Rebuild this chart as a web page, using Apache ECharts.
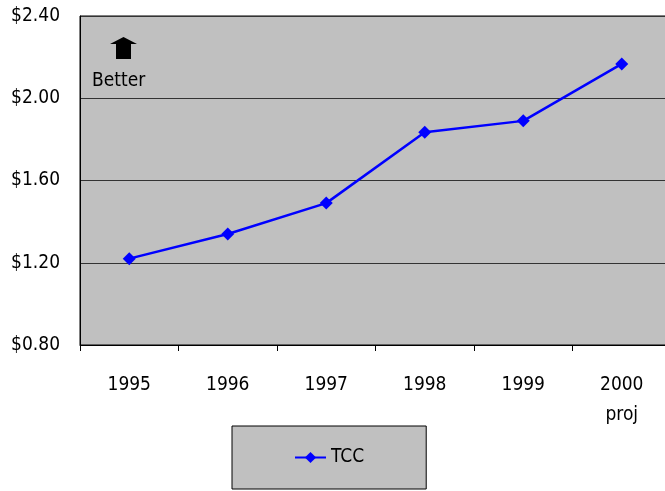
<!DOCTYPE html>
<html>
<head>
<meta charset="utf-8">
<script src="https://cdn.jsdelivr.net/npm/echarts@6/dist/echarts.min.js"></script>
<style>
  html, body { margin: 0; padding: 0; background: #fff; }
  #chart { width: 665px; height: 491px; }
</style>
</head>
<body>
<div id="chart"></div>
<script>
// 数据
const years = ['1995', '1996', '1997', '1998', '1999', '2000\nproj']
const tccValues = [1.22, 1.34, 1.49, 1.835, 1.89, 2.167]
const seriesName = 'TCC'

const font = "'DejaVu Sans Condensed', 'Liberation Sans Narrow', 'Liberation Sans', sans-serif"

const chart = echarts.init(document.getElementById('chart'))
const option = {
  animation: false,
  grid: {
    left: 80,
    width: 591,
    top: 16,
    bottom: 146,
    outerBoundsMode: 'none',
    containLabel: false,
    show: true,
    backgroundColor: '#c0c0c0',
    borderColor: '#000',
    borderWidth: 1
  },
  legend: {
    data: [seriesName],
    left: 232,
    top: 426,
    padding: [22, 62],
    backgroundColor: '#c0c0c0',
    borderColor: '#000',
    borderWidth: 1,
    itemWidth: 31,
    itemHeight: 14,
    itemGap: 4,
    textStyle: { fontFamily: font, fontSize: 19, color: '#000' }
  },
  xAxis: {
    type: 'category',
    data: years,
    boundaryGap: true,
    axisLine: { lineStyle: { color: '#000', width: 1 } },
    axisTick: { show: true, length: 6, lineStyle: { color: '#000' } },
    axisLabel: {
      margin: 25,
      fontFamily: font,
      fontSize: 19,
      color: '#000',
      lineHeight: 30
    }
  },
  yAxis: {
    type: 'value',
    min: 0.8,
    max: 2.4,
    interval: 0.4,
    axisLine: { show: true, lineStyle: { color: '#000' } },
    axisTick: { show: false },
    splitLine: { lineStyle: { color: '#333', width: 1 } },
    axisLabel: {
      margin: 20,
      fontFamily: font,
      fontSize: 19,
      color: '#000',
      formatter: v => '$' + v.toFixed(2)
    }
  },
  graphic: [
    {
      type: 'polygon',
      shape: {
        points: [[123.5, 37], [137, 44], [131, 44], [131, 59], [116, 59], [116, 44], [110, 44]]
      },
      style: { fill: '#000' }
    },
    {
      type: 'text',
      left: 92,
      top: 72,
      style: { text: 'Better', font: '19px ' + font, fill: '#000' }
    }
  ],
  series: [
    {
      name: seriesName,
      type: 'line',
      data: tccValues,
      symbol: 'diamond',
      symbolSize: 13,
      lineStyle: { color: '#0000ff', width: 2.5 },
      itemStyle: { color: '#0000ff' }
    }
  ]
}
chart.setOption(option)
window.addEventListener('resize', () => chart.resize())
</script>
</body>
</html>
